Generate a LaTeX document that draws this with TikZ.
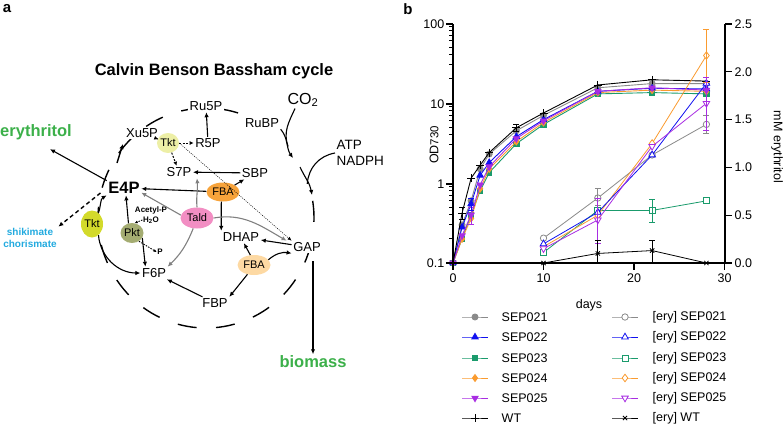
\documentclass[tikz,border=0pt]{standalone}
\usepackage{fontspec}
\setmainfont{Liberation Sans}
\usepackage{tikz}
\usetikzlibrary{arrows.meta,positioning,shapes.geometric,plotmarks,calc}

\definecolor{tktpale}{HTML}{EDEFA6}
\definecolor{tktgreen}{HTML}{D3DA2B}
\definecolor{pktolive}{HTML}{A4AC72}
\definecolor{taldpink}{HTML}{F28EC3}
\definecolor{fbadark}{HTML}{F7A33B}
\definecolor{fbapale}{HTML}{FDD9A3}
\definecolor{prodgreen}{HTML}{3CB04A}
\definecolor{aromblue}{HTML}{22AADF}
\definecolor{sepgray}{HTML}{8A8A8A}
\definecolor{sepblue}{HTML}{1010F0}
\definecolor{sepgreen}{HTML}{1A9B6C}
\definecolor{seporange}{HTML}{FA9B2F}
\definecolor{seppurple}{HTML}{A82DE2}

\newcommand{\odv}[1]{log10(#1)+1}

\begin{document}
\begin{tikzpicture}[
  x=1pt, y=-1pt,
  every node/.style={inner sep=1.5pt},
  met/.style={font=\fontsize{13}{15}\selectfont, fill=white},
  enz/.style={ellipse, inner sep=0pt, minimum width=22pt, minimum height=20pt, font=\fontsize{11}{13}\selectfont},
  tiny/.style={font=\bfseries\fontsize{8}{9}\selectfont, inner sep=0.5pt},
  prod/.style={font=\bfseries\fontsize{16.5}{18}\selectfont, text=prodgreen},
  ar/.style={-{Latex[length=5pt,width=4.5pt]}, line width=1.1pt},
  gar/.style={ar, draw=gray},
  dar/.style={-{Latex[length=4pt,width=4pt]}, line width=1pt, dash pattern=on 2pt off 1.5pt},
  sdar/.style={-{Latex[length=3pt,width=3pt]}, line width=0.9pt, dash pattern=on 1.5pt off 1.2pt},
  fdot/.style={-{Latex[length=4pt,width=3.5pt]}, line width=0.5pt, dash pattern=on 1pt off 1.2pt},
  dashar/.style={-{Latex[length=5pt,width=4.5pt]}, line width=1.4pt, dash pattern=on 4pt off 3pt},
  cyc/.style={line width=1.4pt, dash pattern=on 19pt off 19.5pt, dash phase=4pt},
  axis/.style={line width=1.2pt},
  tick/.style={font=\fontsize{12.5}{14}\selectfont},
  lab/.style={font=\fontsize{12.5}{14}\selectfont},
  eb/.style={{Bar[width=6pt]}-{Bar[width=6pt]}, line width=0.8pt},
  odl/.style={line width=0.9pt, mark size=3pt, mark options={solid}},
  eryl/.style={line width=0.8pt, mark size=3.2pt, mark options={solid, fill=white}},
  c21/.style={odl, sepgray, mark=*},
  c22/.style={odl, sepblue, mark=triangle*, mark size=3.6pt},
  c23/.style={odl, sepgreen, mark=square*, mark size=2.7pt},
  c24/.style={odl, seporange, mark=diamond*, mark size=3.4pt},
  c25/.style={odl, seppurple, mark=triangle*, mark size=3.6pt, mark options={solid, rotate=180}},
  cwt/.style={odl, black, mark=+, mark size=4pt},
  e21/.style={eryl, sepgray, mark=*},
  e22/.style={eryl, sepblue, mark=triangle*, mark size=3.8pt},
  e23/.style={eryl, sepgreen, mark=square*, mark size=3pt},
  e24/.style={eryl, seporange, mark=diamond*, mark size=3.8pt},
  e25/.style={eryl, seppurple, mark=triangle*, mark size=3.8pt, mark options={solid, fill=white, rotate=180}},
  ewt/.style={eryl, black, mark=x, mark size=3pt}
]
\useasboundingbox (0,0) rectangle (783,426);

\node[font=\bfseries\fontsize{15}{17}\selectfont] (pa) at (7,9) {a};
\node[font=\bfseries\fontsize{15}{17}\selectfont] (pb) at (408,9) {b};

% --- panel a: the cycle
\coordinate (cc) at (206,218);
\draw[cyc] (cc) ++(344:108pt and 110pt) arc[start angle=344, end angle=59, x radius=108pt, y radius=110pt];
\draw[line width=1.4pt] (cc) ++(-2:108pt and 110pt) arc[start angle=-2, end angle=9, x radius=108pt, y radius=110pt];

\node[font=\bfseries\fontsize{16.5}{18}\selectfont] (title) at (214,71) {Calvin Benson Bassham cycle};
\node[met] (Ru5P) at (206,106) {Ru5P};
\node[met] (RuBP) at (262,123) {RuBP};
\node[font=\fontsize{16}{18}\selectfont] (CO2) at (303,100) {CO\textsubscript{2}};
\node[font=\fontsize{13.5}{15.5}\selectfont, align=left, anchor=west] (cof) at (335,153) {ATP\\NADPH};
\node[met] (Xu5P) at (142,133) {Xu5P};
\node[enz, fill=tktpale] (Tkt1) at (168,143) {Tkt};
\node[met] (R5P) at (208,143) {R5P};
\node[met] (S7P) at (179,172) {S7P};
\node[met] (SBP) at (255,173) {SBP};
\node[met, font=\bfseries\fontsize{16.5}{18}\selectfont] (E4P) at (124,188) {E4P};
\node[enz, fill=fbadark, minimum width=33pt, minimum height=19pt] (FBA1) at (223,192) {FBA};
\node[prod] (ery) at (36,132) {erythritol};
\node[font=\bfseries\fontsize{10}{12}\selectfont, text=aromblue, align=center] (shik) at (30,238) {shikimate\\chorismate};
\node[enz, fill=tktgreen, minimum height=27pt] (Tkt2) at (92,224) {Tkt};
\node[enz, fill=pktolive, minimum width=23pt] (Pkt) at (132,233) {Pkt};
\node[enz, fill=taldpink, minimum width=33pt, minimum height=21pt] (Tald) at (197,218) {Tald};
\node[tiny] (AcP) at (151,210) {Acetyl-P};
\node[tiny] (H2O) at (151,220) {H\textsubscript{2}O};
\node[tiny] (Pi) at (160,252) {P};
\node[met] (DHAP) at (241,237) {DHAP};
\node[met] (GAP) at (307,247) {GAP};
\node[enz, fill=fbapale, minimum width=33pt] (FBA2) at (254,265) {FBA};
\node[met] (F6P) at (154,273) {F6P};
\node[met] (FBP) at (215,303) {FBP};
\node[prod] (bio) at (313,362) {biomass};

\coordinate (pga) at (293,158);
\coordinate (pgb) at (300,167);
\coordinate (gin) at (312,195);
\coordinate (xin) at (117,163);

% carbon fixation side
\draw[ar] (RuBP.south east) to[out=-50,in=125] (pga);
\draw[line width=1.1pt] ([xshift=-8pt]CO2.south) to[out=-115,in=110] ($(RuBP.south east)!0.6!(pga)$);
\draw[ar] (pgb) to[out=-65,in=100] (gin);
\draw[line width=1.1pt] (cof.west) to[out=190,in=85] ($(pgb)!0.6!(gin)$);

% regeneration
\draw[ar] (R5P) -- (Ru5P);
\draw[dar] (Tkt1) -- (Xu5P);
\draw[dar] (Tkt1) -- (R5P);
\draw[dar] (Tkt1) -- (S7P);
\draw[fdot] (Tkt1.east) -- (GAP.north west);
\draw[ar] (SBP) -- (S7P);
\draw[ar] (FBA1) -- (SBP);
\draw[ar] (FBA1) -- (E4P);
\draw[ar] (FBA1.-100) -- (DHAP.north west);
\draw[ar, line width=1.4pt, shorten >=5pt] (xin) -- (Xu5P.south west);

\draw[gar] (Tald.north) to[out=95,in=-85] ([xshift=4pt]S7P.south east);
\draw[gar] (Tald.170) -- (E4P.-15);
\draw[gar] (Tald.250) to[bend left=12] (F6P.north east);
\draw[gar] (Tald.east) to[out=10,in=150] ([xshift=-5pt]GAP.north west);

\draw[ar] (Tkt2.60) to[out=70,in=210] (E4P.south west);
\draw[ar] (Tkt2.-60) to[out=-85,in=180] (F6P.west);
\draw[ar] (Pkt.110) -- (E4P.-75);
\draw[ar] (Pkt.-25) -- ([xshift=5pt]F6P.north west);
\draw[sdar] (H2O.west) -- (Pkt.75);
\draw[sdar] (Pkt.-50) -- (Pi.west);

\draw[ar, shorten >=16pt] (E4P.north west) -- (ery.south);
\draw[dashar, shorten <=8pt] (E4P.west) -- (shik.north east);

\draw[ar] (GAP) -- (DHAP);
\draw[ar] (FBA2.110) -- (DHAP.-65);
\draw[ar] (FBA2.20) to[bend left=25] (GAP.south west);
\draw[ar] (FBA2.-125) -- (FBP.north east);
\draw[ar] (FBP) -- (F6P);
\draw[ar, shorten <=8pt] (GAP.south -| bio.north) -- (bio.north);

% --- panel b: growth, log scale
\begin{scope}[shift={(453,263)}, x=9.05pt, y=80pt]
\draw[c21] plot coordinates {(0,{\odv{0.1}}) (1,{\odv{0.3}}) (2,{\odv{0.6}}) (3,{\odv{1.5}}) (4,{\odv{2.3}}) (7,{\odv{4.5}}) (10,{\odv{7.0}}) (16,{\odv{15.5}}) (22,{\odv{17.5}}) (28,{\odv{17.5}})};
\draw[c23] plot coordinates {(0,{\odv{0.1}}) (1,{\odv{0.2}}) (2,{\odv{0.4}}) (3,{\odv{0.8}}) (4,{\odv{1.35}}) (7,{\odv{3.1}}) (10,{\odv{5.4}}) (16,{\odv{13}}) (22,{\odv{13.5}}) (28,{\odv{13}})};
\draw[c24] plot coordinates {(0,{\odv{0.1}}) (1,{\odv{0.2}}) (2,{\odv{0.36}}) (3,{\odv{0.85}}) (4,{\odv{1.5}}) (7,{\odv{3.3}}) (10,{\odv{5.7}}) (16,{\odv{13.5}}) (22,{\odv{14.5}}) (28,{\odv{14}})};
\draw[c22] plot coordinates {(0,{\odv{0.1}}) (1,{\odv{0.28}}) (2,{\odv{0.55}}) (3,{\odv{1.25}}) (4,{\odv{1.8}}) (7,{\odv{3.8}}) (10,{\odv{6.2}}) (16,{\odv{14}}) (22,{\odv{15.3}}) (28,{\odv{15}})};
\draw[c25] plot coordinates {(0,{\odv{0.1}}) (1,{\odv{0.22}}) (2,{\odv{0.4}}) (3,{\odv{0.95}}) (4,{\odv{1.6}}) (7,{\odv{3.6}}) (10,{\odv{6}}) (16,{\odv{14}}) (22,{\odv{15.5}}) (28,{\odv{14.5}})};
\draw[cwt] plot coordinates {(0,{\odv{0.1}}) (1,{\odv{0.42}}) (2,{\odv{1.15}}) (3,{\odv{1.67}}) (4,{\odv{2.4}}) (7,{\odv{4.9}}) (10,{\odv{7.5}}) (16,{\odv{16.8}}) (22,{\odv{19.5}}) (28,{\odv{18.8}})};
\draw[eb, black] (1,{\odv{0.35}}) -- (1,{\odv{0.5}});
\draw[eb, black] (7,{\odv{4.4}}) -- (7,{\odv{5.4}});
\draw[eb, black] (28,{\odv{17}}) -- (28,{\odv{21}});
\draw[eb, seppurple] (2,{\odv{0.3}}) -- (2,{\odv{0.5}});
\draw[eb, sepblue] (2,{\odv{0.45}}) -- (2,{\odv{0.65}});
\end{scope}

% --- panel b: erythritol, linear scale
\begin{scope}[shift={(453,263)}, x=9.05pt, y=95.6pt]
\draw[e21] plot coordinates {(10,0.26) (16,0.68) (22,1.13) (28,1.45)};
\draw[e23] plot coordinates {(10,0.11) (16,0.55) (22,0.55) (28,0.65)};
\draw[e24] plot coordinates {(10,0.17) (16,0.5) (22,1.25) (28,2.17)};
\draw[e22] plot coordinates {(10,0.2) (16,0.53) (22,1.13) (28,1.88)};
\draw[e25] plot coordinates {(10,0.15) (16,0.45) (22,1.22) (28,1.67)};
\draw[ewt] plot coordinates {(10,0) (16,0.1) (22,0.13) (28,0)};
\draw[eb, sepgray] (16,0.6) -- (16,0.78);
\draw[eb, sepgray] (28,1.35) -- (28,1.55);
\draw[eb, sepgreen] (22,0.42) -- (22,0.67);
\draw[eb, seporange] (28,1.88) -- (28,2.45);
\draw[eb, seppurple] (28,1.38) -- (28,1.95);
\draw[eb, seppurple] (16,0.2) -- (16,0.68);
\draw[eb, black] (16,0) -- (16,0.24);
\draw[eb, black] (22,0) -- (22,0.24);
\end{scope}

% axes
\draw[axis] (453,24) -- (453,263) -- (725,263) -- (725,24);
\foreach \y/\t [count=\i] in {24/100, 104/10, 184/1, 263/0.1} {
  \draw[axis] (453,\y) -- ++(-7,0);
  \node[tick, anchor=east] (yl\i) at (446,\y) {\t};
}
\foreach \d in {0,80,160}
  \foreach \m in {2,...,9}
    \draw[line width=0.9pt] (453,{263-\d-80*log10(\m)}) -- ++(-4,0);
\foreach \y/\t [count=\i] in {263/0.0, 215.2/0.5, 167.4/1.0, 119.6/1.5, 71.8/2.0, 24/2.5} {
  \draw[axis] (725,\y) -- ++(7,0);
  \node[tick, anchor=west] (yr\i) at (733,\y) {\t};
}
\foreach \x/\t [count=\i] in {453/0, 543.5/10, 634/20, 724.5/30} {
  \draw[axis] (\x,263) -- ++(0,7);
  \node[tick, anchor=north] (xl\i) at (\x,272) {\t};
}
\node[lab] (days) at (589,305) {days};
\node[lab, rotate=90] (odlab) at (434,145) {OD{\fontsize{11.5}{13}\selectfont 730}};
\node[lab, rotate=-90] (mmlab) at (777,147) {mM erythritol};

% legend
\foreach \s/\t/\y in {c21/SEP021/317, c22/SEP022/337, c23/SEP023/358, c24/SEP024/378, c25/SEP025/398, cwt/WT/418} {
  \draw[\s] plot[mark indices={2}] coordinates {(462,\y) (475,\y) (488,\y)};
  \node[lab, anchor=west] (lg\s) at (500,\y) {\t};
}
\foreach \s/\t/\y in {e21/SEP021/317, e22/SEP022/337, e23/SEP023/358, e24/SEP024/378, e25/SEP025/398, ewt/WT/418} {
  \draw[\s] plot[mark indices={2}] coordinates {(612,\y) (625,\y) (638,\y)};
  \node[lab, anchor=west] (lg\s) at (651,\y) {[ery] \t};
}
\end{tikzpicture}
\end{document}
